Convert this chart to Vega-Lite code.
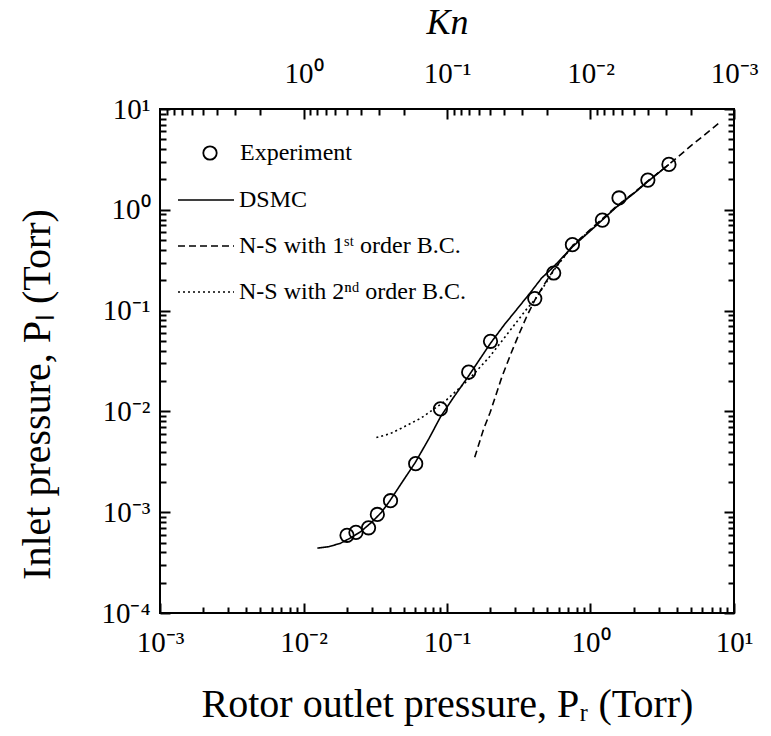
{
  "$schema": "https://vega.github.io/schema/vega-lite/v6.json",
  "width": 574,
  "height": 504,
  "autosize": "none",
  "padding": {"left": 160, "top": 109, "right": 37, "bottom": 123},
  "background": "white",
  "config": {
    "font": "Liberation Serif",
    "view": {"stroke": "black", "strokeWidth": 2},
    "axis": {
      "grid": false, "labelColor": "black", "titleColor": "black",
      "labelFont": "Liberation Serif", "titleFont": "Liberation Serif", "labelFontSize": 29,
      "titleFontSize": 40, "titleFontWeight": "normal"
    }
  },
  "datasets": {
    "exp": [
      {"series": "Experiment", "Pr": 0.0201, "Pl": 0.00059},
      {"series": "Experiment", "Pr": 0.0232, "Pl": 0.00063},
      {"series": "Experiment", "Pr": 0.0284, "Pl": 0.0007},
      {"series": "Experiment", "Pr": 0.0327, "Pl": 0.00095},
      {"series": "Experiment", "Pr": 0.0404, "Pl": 0.0013},
      {"series": "Experiment", "Pr": 0.0605, "Pl": 0.00303},
      {"series": "Experiment", "Pr": 0.09, "Pl": 0.0106},
      {"series": "Experiment", "Pr": 0.1416, "Pl": 0.0245},
      {"series": "Experiment", "Pr": 0.201, "Pl": 0.0496},
      {"series": "Experiment", "Pr": 0.409, "Pl": 0.1315},
      {"series": "Experiment", "Pr": 0.554, "Pl": 0.236},
      {"series": "Experiment", "Pr": 0.748, "Pl": 0.451},
      {"series": "Experiment", "Pr": 1.21, "Pl": 0.79},
      {"series": "Experiment", "Pr": 1.58, "Pl": 1.31},
      {"series": "Experiment", "Pr": 2.51, "Pl": 1.97},
      {"series": "Experiment", "Pr": 3.52, "Pl": 2.82}
    ],
    "lines": [
      {"series": "DSMC", "Pr": 0.0125, "Pl": 0.00044},
      {"series": "DSMC", "Pr": 0.015, "Pl": 0.000455},
      {"series": "DSMC", "Pr": 0.018, "Pl": 0.00049},
      {"series": "DSMC", "Pr": 0.021, "Pl": 0.00055},
      {"series": "DSMC", "Pr": 0.025, "Pl": 0.00064},
      {"series": "DSMC", "Pr": 0.03, "Pl": 0.0008},
      {"series": "DSMC", "Pr": 0.035, "Pl": 0.001},
      {"series": "DSMC", "Pr": 0.04, "Pl": 0.0013},
      {"series": "DSMC", "Pr": 0.05, "Pl": 0.0021},
      {"series": "DSMC", "Pr": 0.06, "Pl": 0.0031},
      {"series": "DSMC", "Pr": 0.075, "Pl": 0.0054},
      {"series": "DSMC", "Pr": 0.09, "Pl": 0.0088},
      {"series": "DSMC", "Pr": 0.11, "Pl": 0.0135},
      {"series": "DSMC", "Pr": 0.14, "Pl": 0.022},
      {"series": "DSMC", "Pr": 0.2, "Pl": 0.047},
      {"series": "DSMC", "Pr": 0.25, "Pl": 0.072},
      {"series": "DSMC", "Pr": 0.3, "Pl": 0.099},
      {"series": "DSMC", "Pr": 0.38, "Pl": 0.15},
      {"series": "DSMC", "Pr": 0.456, "Pl": 0.21},
      {"series": "DSMC", "Pr": 0.55, "Pl": 0.27},
      {"series": "DSMC", "Pr": 0.75, "Pl": 0.43},
      {"series": "DSMC", "Pr": 1.0, "Pl": 0.62},
      {"series": "DSMC", "Pr": 1.5, "Pl": 1.05},
      {"series": "DSMC", "Pr": 2.0, "Pl": 1.45},
      {"series": "DSMC", "Pr": 2.5, "Pl": 1.9},
      {"series": "DSMC", "Pr": 3.5, "Pl": 2.8},
      {"series": "N-S with 1ˢᵗ order B.C.", "Pr": 0.156, "Pl": 0.0035},
      {"series": "N-S with 1ˢᵗ order B.C.", "Pr": 0.18, "Pl": 0.0067},
      {"series": "N-S with 1ˢᵗ order B.C.", "Pr": 0.2, "Pl": 0.0098},
      {"series": "N-S with 1ˢᵗ order B.C.", "Pr": 0.24, "Pl": 0.0215},
      {"series": "N-S with 1ˢᵗ order B.C.", "Pr": 0.28, "Pl": 0.038},
      {"series": "N-S with 1ˢᵗ order B.C.", "Pr": 0.32, "Pl": 0.06},
      {"series": "N-S with 1ˢᵗ order B.C.", "Pr": 0.36, "Pl": 0.088},
      {"series": "N-S with 1ˢᵗ order B.C.", "Pr": 0.41, "Pl": 0.128},
      {"series": "N-S with 1ˢᵗ order B.C.", "Pr": 0.48, "Pl": 0.185},
      {"series": "N-S with 1ˢᵗ order B.C.", "Pr": 0.56, "Pl": 0.26},
      {"series": "N-S with 1ˢᵗ order B.C.", "Pr": 0.75, "Pl": 0.44},
      {"series": "N-S with 1ˢᵗ order B.C.", "Pr": 1.0, "Pl": 0.64},
      {"series": "N-S with 1ˢᵗ order B.C.", "Pr": 1.5, "Pl": 1.07},
      {"series": "N-S with 1ˢᵗ order B.C.", "Pr": 2.0, "Pl": 1.47},
      {"series": "N-S with 1ˢᵗ order B.C.", "Pr": 2.5, "Pl": 1.92},
      {"series": "N-S with 1ˢᵗ order B.C.", "Pr": 3.5, "Pl": 2.8},
      {"series": "N-S with 1ˢᵗ order B.C.", "Pr": 5.0, "Pl": 4.3},
      {"series": "N-S with 1ˢᵗ order B.C.", "Pr": 8.0, "Pl": 7.4},
      {"series": "N-S with 2ⁿᵈ order B.C.", "Pr": 0.0322, "Pl": 0.0055},
      {"series": "N-S with 2ⁿᵈ order B.C.", "Pr": 0.04, "Pl": 0.006},
      {"series": "N-S with 2ⁿᵈ order B.C.", "Pr": 0.048, "Pl": 0.0068},
      {"series": "N-S with 2ⁿᵈ order B.C.", "Pr": 0.066, "Pl": 0.0086},
      {"series": "N-S with 2ⁿᵈ order B.C.", "Pr": 0.0975, "Pl": 0.0127},
      {"series": "N-S with 2ⁿᵈ order B.C.", "Pr": 0.143, "Pl": 0.021},
      {"series": "N-S with 2ⁿᵈ order B.C.", "Pr": 0.198, "Pl": 0.0348},
      {"series": "N-S with 2ⁿᵈ order B.C.", "Pr": 0.273, "Pl": 0.0626},
      {"series": "N-S with 2ⁿᵈ order B.C.", "Pr": 0.352, "Pl": 0.1},
      {"series": "N-S with 2ⁿᵈ order B.C.", "Pr": 0.414, "Pl": 0.131},
      {"series": "N-S with 2ⁿᵈ order B.C.", "Pr": 0.48, "Pl": 0.18},
      {"series": "N-S with 2ⁿᵈ order B.C.", "Pr": 0.56, "Pl": 0.255},
      {"series": "N-S with 2ⁿᵈ order B.C.", "Pr": 0.75, "Pl": 0.44},
      {"series": "N-S with 2ⁿᵈ order B.C.", "Pr": 1.0, "Pl": 0.63},
      {"series": "N-S with 2ⁿᵈ order B.C.", "Pr": 1.5, "Pl": 1.06},
      {"series": "N-S with 2ⁿᵈ order B.C.", "Pr": 2.0, "Pl": 1.46},
      {"series": "N-S with 2ⁿᵈ order B.C.", "Pr": 2.5, "Pl": 1.91},
      {"series": "N-S with 2ⁿᵈ order B.C.", "Pr": 3.5, "Pl": 2.8}
    ]
  },
  "layer": [
    {
      "data": {"name": "exp"},
      "mark": {"type": "point", "filled": false, "stroke": "black", "strokeWidth": 1.8, "size": 180, "opacity": 1},
      "encoding": {
        "x": {
          "field": "Pr", "type": "quantitative",
          "scale": {"type": "log", "domain": [0.001, 10]},
          "axis": {
            "orient": "bottom", "domain": false, "tickColor": "black", "tickWidth": 2, "labelPadding": 25,
            "tickSize": {"condition": {"test": "abs(log(datum.value)/LN10 - round(log(datum.value)/LN10)) < 0.01", "value": -10}, "value": -6},
            "values": [0.001,0.002,0.003,0.004,0.005,0.006,0.007,0.008,0.009,0.01,0.02,0.03,0.04,0.05,0.06,0.07,0.08,0.09,0.1,0.2,0.3,0.4,0.5,0.6,0.7,0.8,0.9,1,2,3,4,5,6,7,8,9,10],
            "labelFlush": false, "labelOverlap": false, "labelBound": false,
            "labelExpr": "abs(log(datum.value)/LN10 - round(log(datum.value)/LN10)) > 0.01 ? '' : datum.value < 0.005 ? '10⁻³' : datum.value < 0.05 ? '10⁻²' : datum.value < 0.5 ? '10⁻¹' : datum.value < 5 ? '10⁰' : '10¹'",
            "title": "Rotor outlet pressure,  Pᵣ  (Torr)", "titlePadding": 23
          }
        },
        "y": {
          "field": "Pl", "type": "quantitative",
          "scale": {"type": "log", "domain": [0.0001, 10]},
          "axis": {
            "orient": "left", "domain": false, "tickColor": "black", "tickWidth": 2, "labelPadding": 20,
            "tickSize": {"condition": {"test": "abs(log(datum.value)/LN10 - round(log(datum.value)/LN10)) < 0.01", "value": -10}, "value": -6},
            "values": [0.0001,0.0002,0.0003,0.0004,0.0005,0.0006,0.0007,0.0008,0.0009,0.001,0.002,0.003,0.004,0.005,0.006,0.007,0.008,0.009,0.01,0.02,0.03,0.04,0.05,0.06,0.07,0.08,0.09,0.1,0.2,0.3,0.4,0.5,0.6,0.7,0.8,0.9,1,2,3,4,5,6,7,8,9,10],
            "labelFlush": false, "labelOverlap": false, "labelBound": false,
            "labelExpr": "abs(log(datum.value)/LN10 - round(log(datum.value)/LN10)) > 0.01 ? '' : datum.value < 0.0005 ? '10⁻⁴' : datum.value < 0.005 ? '10⁻³' : datum.value < 0.05 ? '10⁻²' : datum.value < 0.5 ? '10⁻¹' : datum.value < 5 ? '10⁰' : '10¹'",
            "title": "Inlet pressure,  Pₗ  (Torr)", "titlePadding": 43, "titleY": 285
          }
        },
        "shape": {
          "field": "series", "type": "nominal",
          "scale": {"domain": ["Experiment"], "range": ["circle"]},
          "legend": {
            "title": null, "orient": "none", "legendX": 38, "legendY": 32, "padding": 0,
            "symbolSize": 180, "symbolStrokeWidth": 1.8, "symbolStrokeColor": "black", "symbolFillColor": "transparent",
            "labelFont": "Liberation Serif", "labelFontSize": 24, "labelColor": "black", "labelOffset": 18, "labelLimit": 400
          }
        }
      }
    },
    {
      "data": {"name": "lines"},
      "mark": {"type": "line", "color": "black", "strokeWidth": 1.6},
      "encoding": {
        "x": {
          "field": "Pr", "type": "quantitative",
          "axis": {
            "orient": "top", "domain": false, "tickColor": "black", "tickWidth": 2, "labelPadding": 31,
            "tickSize": {"condition": {"test": "abs(log(datum.value)/LN10 - round(log(datum.value)/LN10)) < 0.01", "value": -10}, "value": -6},
            "values": [0.0011111,0.00125,0.0014286,0.0016667,0.002,0.0025,0.0033333,0.005,0.01,0.011111,0.0125,0.014286,0.016667,0.02,0.025,0.033333,0.05,0.1,0.11111,0.125,0.14286,0.16667,0.2,0.25,0.33333,0.5,1,1.1111,1.25,1.4286,1.6667,2,2.5,3.3333,5,10],
            "labelFlush": false, "labelOverlap": false, "labelBound": false,
            "labelExpr": "abs(log(datum.value)/LN10 - round(log(datum.value)/LN10)) > 0.01 ? '' : datum.value < 0.05 ? '10⁰' : datum.value < 0.5 ? '10⁻¹' : datum.value < 5 ? '10⁻²' : '10⁻³'",
            "title": "Kn", "titleFontStyle": "italic", "titleFontSize": 36, "titlePadding": 14
          }
        },
        "y": {
          "field": "Pl", "type": "quantitative",
          "axis": {
            "orient": "right", "domain": false, "labels": false, "title": null, "tickColor": "black", "tickWidth": 2,
            "tickSize": {"condition": {"test": "abs(log(datum.value)/LN10 - round(log(datum.value)/LN10)) < 0.01", "value": -10}, "value": -6},
            "values": [0.0001,0.0002,0.0003,0.0004,0.0005,0.0006,0.0007,0.0008,0.0009,0.001,0.002,0.003,0.004,0.005,0.006,0.007,0.008,0.009,0.01,0.02,0.03,0.04,0.05,0.06,0.07,0.08,0.09,0.1,0.2,0.3,0.4,0.5,0.6,0.7,0.8,0.9,1,2,3,4,5,6,7,8,9,10]
          }
        },
        "strokeDash": {
          "field": "series", "type": "nominal",
          "scale": {"domain": ["DSMC", "N-S with 1ˢᵗ order B.C.", "N-S with 2ⁿᵈ order B.C."], "range": [[1, 0], [7, 4], [2, 3]]},
          "legend": {
            "title": null, "orient": "none", "legendX": 17, "legendY": 62, "padding": 0,
            "symbolType": "stroke", "symbolSize": 3136, "symbolStrokeWidth": 1.5, "symbolStrokeColor": "black",
            "labelFont": "Liberation Serif", "labelFontSize": 24, "labelColor": "black", "labelOffset": 4, "rowPadding": 5, "labelLimit": 400
          }
        }
      }
    }
  ],
  "resolve": {"axis": {"x": "independent", "y": "independent"}}
}
